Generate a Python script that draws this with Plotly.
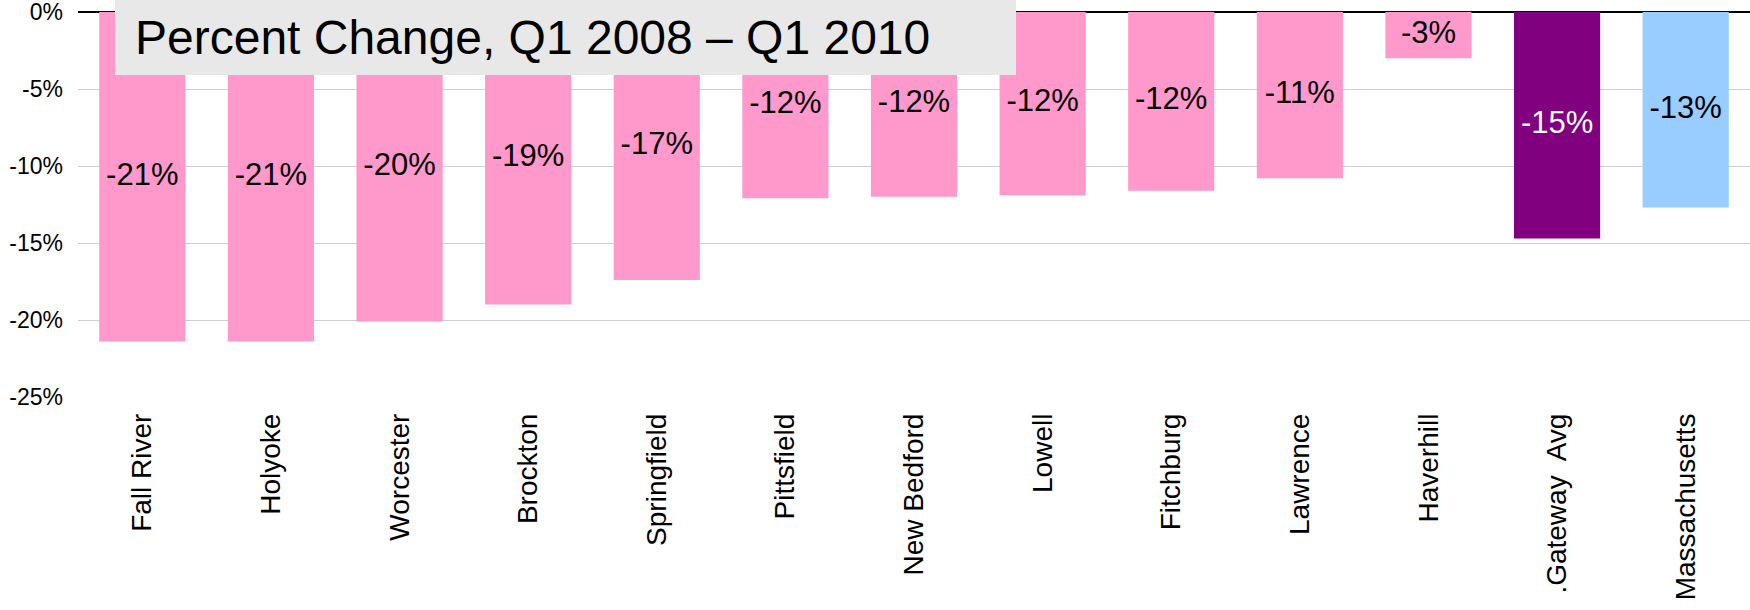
import plotly.graph_objects as go

categories = ["Fall River", "Holyoke", "Worcester", "Brockton", "Springfield",
              "Pittsfield", "New Bedford", "Lowell", "Fitchburg", "Lawrence",
              "Haverhill", ".Gateway  Avg", "Massachusetts"]
values = [-21.4, -21.4, -20.1, -19.0, -17.4, -12.1, -12.0, -11.9, -11.6, -10.8,
          -3.0, -14.7, -12.7]
bar_colors = ["#ff99cc"] * 11 + ["#800080", "#99ccff"]
label_colors = ["black"] * 11 + ["white", "black"]
tick_vals = [0, -5, -10, -15, -20, -25]
tick_text = ["0%", "-5%", "-10%", "-15%", "-20%", "-25%"]
title_text = "Percent Change, Q1 2008 \u2013 Q1 2010"

labels = [f"{round(v):d}%" for v in values]
mids = [v / 2 for v in values]

FONT = "Liberation Sans, Arial, Helvetica, sans-serif"

fig = go.Figure()
fig.add_trace(go.Bar(x=categories, y=values, marker=dict(color=bar_colors, line=dict(width=0)),
                     hoverinfo="skip"))
fig.add_trace(go.Scatter(x=categories, y=mids, mode="text", text=labels,
                         textposition="middle center",
                         textfont=dict(family=FONT, size=31, color=label_colors),
                         hoverinfo="skip"))

W, H = 1750, 610
ml, mr, mt, mb = 78, 0, 12, 213
pw = W - ml - mr
ph = H - mt - mb

def px_x(px):
    return (px - ml) / pw

def px_y(py):
    return (H - mb - py) / ph

fig.add_shape(type="rect", xref="paper", yref="paper",
              x0=px_x(115), x1=px_x(1016), y0=px_y(75), y1=px_y(0),
              fillcolor="#e8e8e8", line=dict(width=0), layer="above")
fig.add_annotation(xref="paper", yref="paper", x=px_x(133), y=px_y(37),
                   xanchor="left", yanchor="middle", showarrow=False,
                   text=title_text, font=dict(family=FONT, size=48, color="black"))

fig.update_layout(
    width=W, height=H,
    margin=dict(l=ml, r=mr, t=mt, b=mb, pad=0, autoexpand=False),
    paper_bgcolor="white", plot_bgcolor="white",
    showlegend=False, bargap=0.33,
    font=dict(family=FONT, color="black"),
)
fig.update_xaxes(range=[-0.5, len(categories) - 0.5],
                 tickangle=-90, tickfont=dict(family=FONT, size=28, color="black"),
                 showgrid=False, showline=False, zeroline=False, ticks="",
                 ticklabelstandoff=10, automargin=False, ticklabeloverflow="allow")
fig.update_yaxes(range=[-25, 0], tickvals=tick_vals, ticktext=tick_text,
                 tickfont=dict(family=FONT, size=23, color="black"),
                 showgrid=True, gridcolor="#d0d0d0", gridwidth=1,
                 zeroline=True, zerolinecolor="black", zerolinewidth=1.5,
                 showline=False, ticks="", ticklabelstandoff=14,
                 automargin=False, ticklabeloverflow="allow")

fig.write_html("out.html", config={"displayModeBar": False, "staticPlot": True},
               post_script="document.body.style.margin='0';document.body.style.overflow='hidden';")
